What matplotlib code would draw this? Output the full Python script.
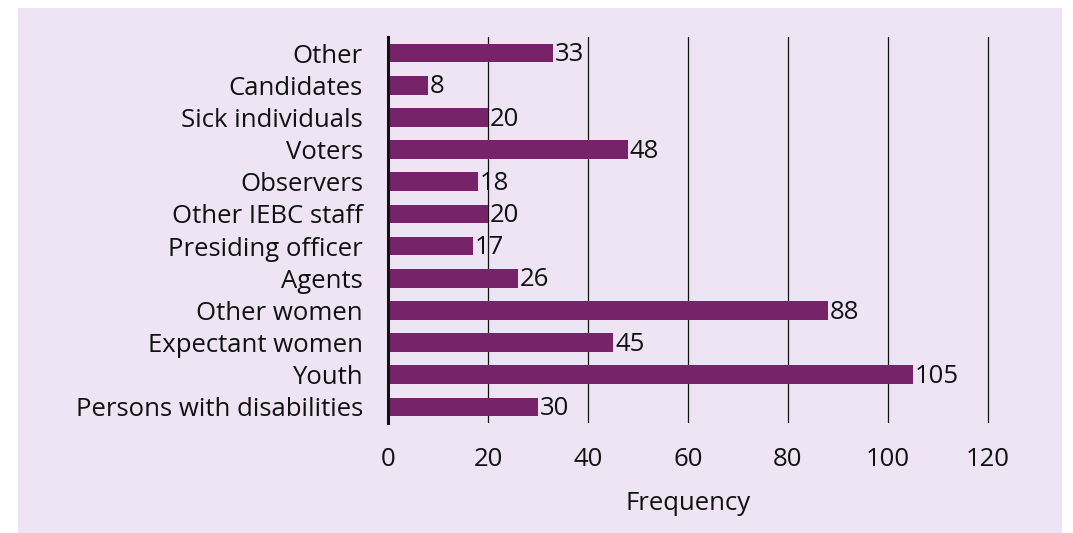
import matplotlib.pyplot as plt
from matplotlib.patches import Rectangle

categories = ['Other', 'Candidates', 'Sick individuals', 'Voters', 'Observers',
              'Other IEBC staff', 'Presiding officer', 'Agents', 'Other women',
              'Expectant women', 'Youth', 'Persons with disabilities']
values = [33, 8, 20, 48, 18, 20, 17, 26, 88, 45, 105, 30]
xticks = [0, 20, 40, 60, 80, 100, 120]

bar_color = '#76236A'
bg_color = '#EEE4F4'
fs = 18.5

plt.rcParams['font.family'] = ['Open Sans', 'DejaVu Sans']

W, H = 1073, 533
fig = plt.figure(figsize=(W / 100, H / 100), dpi=100)
fig.patch.set_facecolor('white')
# lavender panel (page background)
fig.add_artist(Rectangle((18 / W, 0), 1044 / W, 1 - 8 / H, transform=fig.transFigure,
                         facecolor=bg_color, edgecolor='none', zorder=-10))

ax = fig.add_axes([388 / W, 1 - 423 / H, 650 / W, 386 / H])
ax.set_facecolor('none')

pos = list(range(len(categories)))
ax.barh(pos, values, height=0.58, color=bar_color, zorder=3)
for p, v in zip(pos, values):
    ax.text(v + 0.4, p + 0.05, str(v), va='center', ha='left', fontsize=fs, color='#111111', zorder=4)

ax.set_ylim(len(categories) - 0.5, -0.5)
ax.set_xlim(0, 130)
ax.set_yticks(pos)
ax.set_yticklabels(categories, fontsize=fs, color='#111111')
ax.set_xticks(xticks)
ax.set_xticklabels([str(t) for t in xticks], fontsize=fs, color='#111111')
ax.tick_params(axis='both', length=0)
ax.tick_params(axis='x', pad=17)
ax.tick_params(axis='y', pad=18)

for t in xticks[1:]:
    ax.axvline(t, color='#111111', lw=0.9, zorder=2)

for s in ['top', 'right', 'bottom']:
    ax.spines[s].set_visible(False)
ax.spines['left'].set_linewidth(2.2)
ax.spines['left'].set_color('#111111')
ax.spines['left'].set_zorder(5)

ax.text(60, -(504 - 423) / 386, 'Frequency', transform=ax.get_xaxis_transform(),
        ha='center', va='center', fontsize=fs, color='#111111')

fig.savefig('out.png', dpi=100)
